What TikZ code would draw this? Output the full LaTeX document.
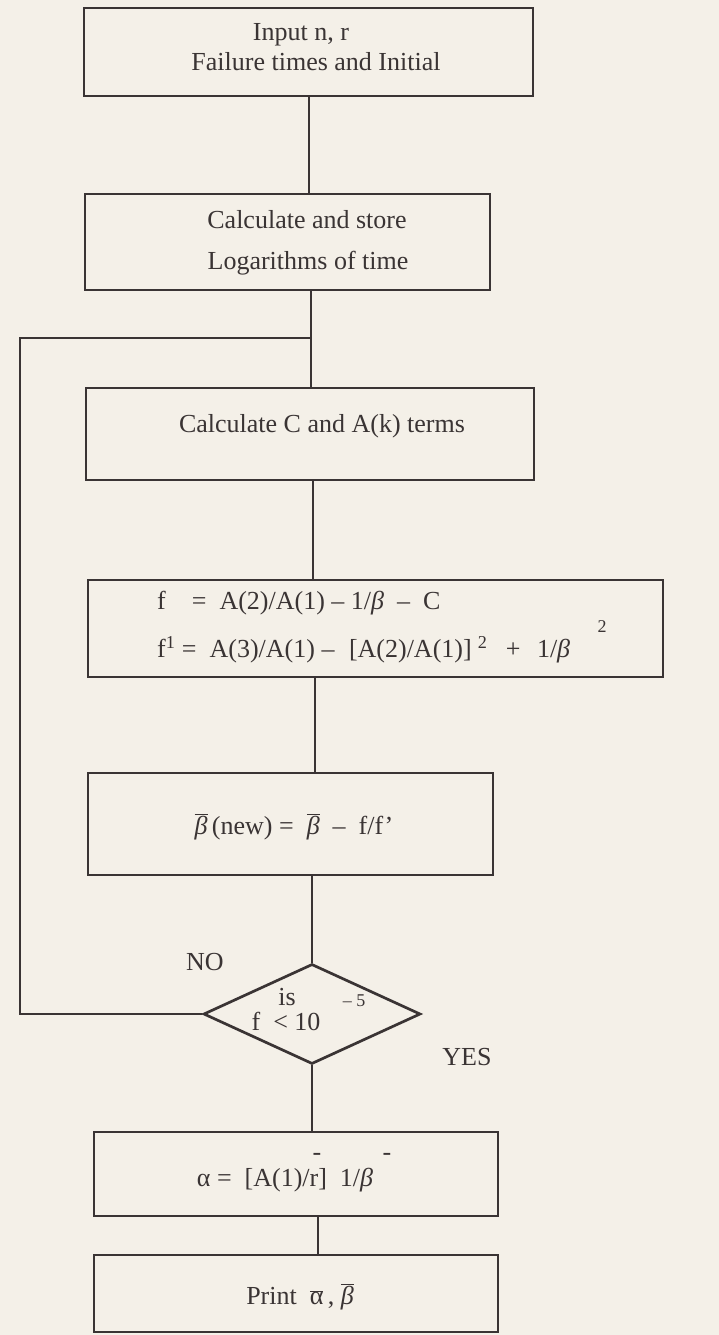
\documentclass[tikz,border=0pt]{standalone}
\usepackage{fontspec}
\setmainfont{Liberation Serif}
\usetikzlibrary{shapes.geometric}
\definecolor{paper}{RGB}{244,240,232}
\definecolor{ink}{RGB}{58,52,52}
\newcommand\ovbar[1]{$\overline{\hbox{#1}}$}
\newcommand\bet{\textit{β}}
\begin{document}
\begin{tikzpicture}[x=1pt,y=-1pt,
  box/.style={draw=ink, line width=2.7pt, rectangle, inner sep=0pt},
  txt/.style={text=ink, font=\fontsize{26}{27}\selectfont, inner sep=0pt},
  small/.style={text=ink, font=\fontsize{18}{18}\selectfont, inner sep=0pt},
  link/.style={draw=ink, line width=2.7pt}]
\fill[paper] (0,0) rectangle (719,1335);
\useasboundingbox (0,0) rectangle (719,1335);

% boxes
\node[box, minimum width=449pt, minimum height=88pt] (b1) at (308.5,52) {};
\node[box, minimum width=405pt, minimum height=96pt] (b2) at (287.5,242) {};
\node[box, minimum width=448pt, minimum height=92pt] (b3) at (310,434) {};
\node[box, minimum width=575pt, minimum height=97pt] (b4) at (375.5,628.5) {};
\node[box, minimum width=405pt, minimum height=102pt] (b5) at (290.5,824) {};
\node[diamond, draw=ink, line width=2.7pt, inner sep=0pt, minimum width=217pt, minimum height=100pt] (d) at (312,1014) {};
\node[box, minimum width=404pt, minimum height=84pt] (b6) at (296,1174) {};
\node[box, minimum width=404pt, minimum height=77pt] (b7) at (296,1293.5) {};

% texts
\node[txt] (t1a) at (301,35) {Input n, r};
\node[txt] (t1b) at (316,62) {Failure times and Initial};
\node[txt] (t2a) at (307,220) {Calculate and store};
\node[txt] (t2b) at (308,263) {Logarithms of time};
\node[txt] (t3) at (322,426) {Calculate C and A(k) terms};
\node[txt, anchor=west] (t4a) at (157,603) {f\quad=\ \ A(2)/A(1) – 1/\bet\ \ – \ C};
\node[txt, anchor=west] (t4b) at (157,650) {f\textsuperscript{1} = \ A(3)/A(1) –\hspace{8pt} [A(2)/A(1)]\hspace{6pt}\textsuperscript{2}\hspace{12pt} +\hspace{10pt} 1/\bet};
\node[small] (t4c) at (602,627) {2};
\node[txt] (t5) at (294,827) {\ovbar{\bet}\,(new)\ =\ \ \ovbar{\bet}\ \ –\ \ f/f’};
\node[txt] (tis) at (287,997) {is};
\node[txt] (tf) at (286,1021) {f\ \ <\ 10};
\node[small] (texp) at (354,1001) {– 5};
\node[txt] (tno) at (205,962) {NO};
\node[txt] (tyes) at (467,1057) {YES};
\node[txt] (t6) at (285,1180) {α\ =\ \ [A(1)/r]\ \ 1/\bet};
\node[txt] (t6a) at (317,1157) {-};
\node[txt] (t6b) at (387,1157) {-};
\node[txt] (t7) at (300,1297) {Print\ \ \ovbar{α}\,,\ \ovbar{\bet}};

% spine coordinates
\coordinate (s1) at (309,0);
\coordinate (s2) at (311,0);
\coordinate (s3) at (313,0);
\coordinate (s4) at (315,0);
\coordinate (s7) at (318,0);
\coordinate (j1) at (311,338);
\coordinate (lc) at (20,338);

% connectors
\draw[link] (b1.south -| s1) -- (b2.north -| s1);
\draw[link] (b2.south -| s2) -- (b3.north -| s2);
\draw[link] (b3.south -| s3) -- (b4.north -| s3);
\draw[link] (b4.south -| s4) -- (b5.north -| s4);
\draw[link] (b5.south -| d.north) -- (d.north);
\draw[link] (d.south) -- (b6.north -| d.south);
\draw[link] (b6.south -| s7) -- (b7.north -| s7);
\draw[link, line join=miter] (d.west) -| (lc) -- (j1);
\end{tikzpicture}
\end{document}
